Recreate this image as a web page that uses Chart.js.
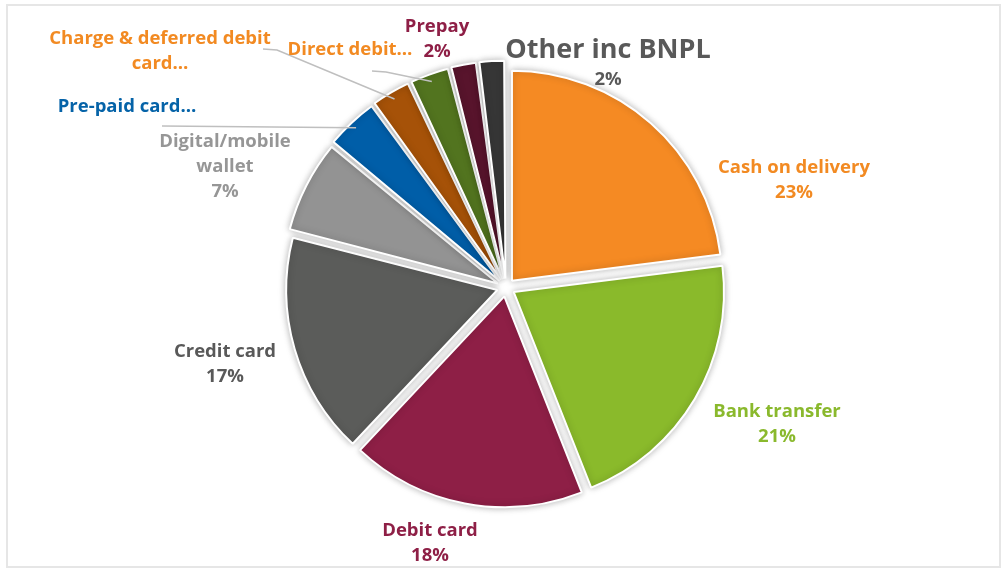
<!DOCTYPE html>
<html>
<head>
<meta charset="utf-8">
<script src="https://cdn.jsdelivr.net/npm/chart.js@4"></script>
<style>
  html, body { margin: 0; padding: 0; background: #fff; }
  #wrap { position: relative; width: 1005px; height: 572px; }
  #frame { position: absolute; left: 6px; top: 4px; width: 995px; height: 564px; border: 2px solid #E6E6E6; box-sizing: border-box; }
  canvas { position: absolute; left: 0; top: 0; }
</style>
</head>
<body>
<div id="wrap">
  <div id="frame"></div>
  <canvas id="grafico" width="1005" height="572"></canvas>
</div>
<script>
// data (share of online payments, %)
const categorias = ["Cash on delivery", "Bank transfer", "Debit card", "Credit card", "Digital/mobile wallet",
                    "Pre-paid card", "Charge & deferred debit card", "Direct debit", "Prepay", "Other inc BNPL"]
const valores = [23, 21, 18, 17, 7, 4, 3, 3, 2, 2]
// label text as shown (some are cut short, some have no percent)
const etiquetas = [["Cash on delivery"], ["Bank transfer"], ["Debit card"], ["Credit card"], ["Digital/mobile", "wallet"],
                   ["Pre-paid card…"], ["Charge & deferred debit", "card…"], ["Direct debit…"], ["Prepay"], ["Other inc BNPL"]]
const conPorcentaje = [true, true, true, true, true, false, false, false, true, true]

const coloresSector = ["#F58A23", "#8ABA2B", "#8E1F46", "#5B5C5A", "#939393",
                       "#005EA8", "#A65208", "#52741F", "#58142C", "#363636"]
const coloresTexto = ["#F28A22", "#8AB92D", "#8E1F46", "#595959", "#969696",
                      "#0563A8", "#F28A22", "#F28A22", "#8E1F46", "#595959"]

// where each label block sits (centre of first line) and where its leader line starts
const posEtiqueta = [[794, 168], [777, 412], [430, 531], [225, 352], [225, 142],
                     [127, 107], [160, 39], [350, 50], [437, 27], [608, 50]]
const inicioGuia = [null, null, null, null, null, [162, 126], [263, 49], [372, 71], null, null]

const OFFSET = 36 // chart.js draws offset/4 px

const sombra = {
  id: "sombra",
  beforeDatasetsDraw(chart) {
    const ctx = chart.ctx
    ctx.save()
    ctx.shadowColor = "rgba(0,0,0,0.28)"
    ctx.shadowBlur = 7
  },
  afterDatasetsDraw(chart) {
    chart.ctx.restore()
  }
}

const etiquetasPlugin = {
  id: "etiquetas",
  afterDraw(chart) {
    const ctx = chart.ctx
    const arcs = chart.getDatasetMeta(0).data
    ctx.save()
    arcs.forEach((arc, i) => {
      const p = arc.getProps(["x", "y", "startAngle", "endAngle", "outerRadius"], true)
      const mid = (p.startAngle + p.endAngle) / 2
      // leader line from label to the slice edge
      if (inicioGuia[i]) {
        const r = p.outerRadius + OFFSET / 4
        const ex = p.x + Math.cos(mid) * r
        const ey = p.y + Math.sin(mid) * r
        const [sx, sy] = inicioGuia[i]
        ctx.strokeStyle = "#BFBFBF"
        ctx.lineWidth = 1.5
        ctx.beginPath()
        ctx.moveTo(sx, sy)
        if (i != 5) ctx.lineTo(sx + 14, sy + 1)
        ctx.lineTo(ex, ey)
        ctx.stroke()
      }
      const grande = i == 9
      const [lx, ly] = posEtiqueta[i]
      ctx.fillStyle = coloresTexto[i]
      ctx.textAlign = "center"
      ctx.textBaseline = "middle"
      let y = ly
      etiquetas[i].forEach((t) => {
        ctx.font = grande ? "bold 27px 'Open Sans'" : "bold 18.5px 'Open Sans'"
        ctx.fillText(t, lx, y)
        y += grande ? 30 : 25
      })
      if (conPorcentaje[i]) {
        ctx.font = "bold 18.5px 'Open Sans'"
        ctx.fillText(valores[i] + "%", lx, y)
      }
    })
    ctx.restore()
  }
}

new Chart(document.getElementById("grafico"), {
  type: "pie",
  data: {
    labels: categorias,
    datasets: [{
      data: valores,
      backgroundColor: coloresSector,
      borderColor: "#ffffff",
      borderWidth: 2,
      offset: OFFSET,
      radius: 210
    }]
  },
  options: {
    responsive: false,
    animation: false,
    layout: { padding: { left: 7, right: 0, top: 3, bottom: 0 } },
    plugins: {
      legend: { display: false },
      tooltip: { enabled: false }
    }
  },
  plugins: [sombra, etiquetasPlugin]
})
</script>
</body>
</html>
